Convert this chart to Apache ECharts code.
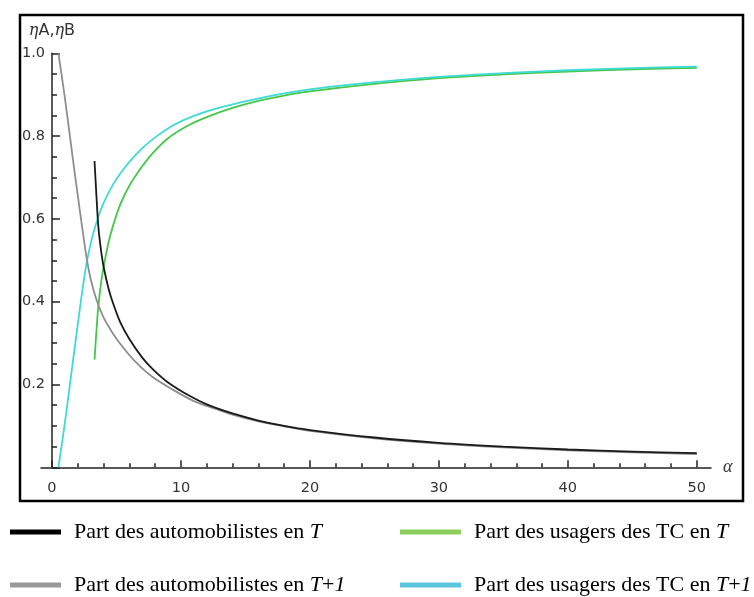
<!DOCTYPE html>
<html><head><meta charset="utf-8">
<script src="https://cdn.jsdelivr.net/npm/echarts@6/dist/echarts.min.js"></script>
<style>html,body{margin:0;padding:0;background:#fff}#c{width:754px;height:597px}</style>
</head><body><div id="c"></div>
<script>
// Part des automobilistes en T (black)
const alphaAutoT = [3.3,3.45,3.6,3.8,4.0,4.4,4.75,5.3,6.0,7.0,7.85,9.0,10.7,12,14,16,18,20,25,30,35,40,45,50];
const autoT      = [0.74,0.655,0.58,0.525,0.485,0.43,0.395,0.35,0.31,0.265,0.236,0.205,0.172,0.152,0.13,0.113,0.1,0.09,0.072,0.059,0.05,0.043,0.038,0.034];
// Part des usagers des TC en T (green)
const alphaTcT = [3.3,3.45,3.6,3.85,4.1,4.4,4.75,5.3,6.0,7.0,7.85,9.0,10.7,12,14,16,18,20,25,30,35,40,45,50];
const tcT      = [0.26,0.33,0.39,0.455,0.5,0.545,0.585,0.635,0.68,0.727,0.76,0.795,0.828,0.846,0.868,0.885,0.898,0.908,0.926,0.94,0.949,0.956,0.961,0.965];
// Part des automobilistes en T+1 (gray)
const alphaAutoT1 = [0.5,1.0,1.6,2.17,2.69,3.0,3.46,4.0,4.75,5.5,6.56,7.8,9.4,11,12.5,14,16,18,20,25,30,35,40,45,50];
const autoT1      = [1.0,0.893,0.75,0.618,0.505,0.455,0.404,0.362,0.322,0.29,0.252,0.218,0.187,0.16,0.143,0.127,0.111,0.099,0.088,0.07,0.057,0.048,0.041,0.036,0.032];
// Part des usagers des TC en T+1 (cyan)
const alphaTcT1 = [0.5,1.0,1.65,2.17,2.56,2.82,3.2,3.6,4.0,4.75,5.5,6.56,7.8,9.4,11,13,16.6,20,23.3,30,35,40,45,50];
const tcT1      = [0.0,0.107,0.262,0.385,0.47,0.515,0.565,0.605,0.638,0.684,0.718,0.757,0.792,0.826,0.849,0.869,0.895,0.913,0.925,0.943,0.952,0.959,0.964,0.968];

const xMajor = [0,10,20,30,40,50];
const xMinor = [2,4,6,8,12,14,16,18,22,24,26,28,32,34,36,38,42,44,46,48];

const names = ['Part des automobilistes en T','Part des automobilistes en T+1','Part des usagers des TC en T','Part des usagers des TC en T+1'];

const pairs = (xs, ys) => xs.map((x, i) => [x, ys[i]]);
const axisColor = '#222';
const tickFont = 'DejaVu Sans';

const legendFmt = n => n.replace(/ T\+1$/, ' {i|T}+{i|1}').replace(/ T$/, ' {i|T}');
const legendText = {
  fontFamily: 'Liberation Serif', fontSize: 22, lineHeight: 24, color: '#000', padding: [0,0,0,8],
  rich: { i: { fontFamily: 'Liberation Serif', fontSize: 22, fontStyle: 'italic', color: '#000' } }
};
const mkLegend = (name, color, left, top, w) => ({
  orient: 'horizontal', left: left, top: top, padding: 0, itemWidth: w, itemHeight: 5, icon: 'rect',
  data: [{ name: name, itemStyle: { color: color } }],
  formatter: legendFmt, textStyle: legendText
});

const chart = echarts.init(document.getElementById('c'));
chart.setOption({
  animation: false,
  backgroundColor: '#fff',
  grid: { left: 41, top: 53.3, width: 670, height: 414, containLabel: false },
  graphic: [{
    type: 'rect', silent: true, z: -1,
    shape: { x: 20, y: 15, width: 723, height: 486 },
    style: { fill: 'none', stroke: '#000', lineWidth: 2.5 }
  }],
  xAxis: [{
    type: 'value', min: -0.85, max: 51.1,
    axisLine: { onZero: true, lineStyle: { color: axisColor, width: 1.5 } },
    axisTick: { inside: true, length: 7, customValues: xMajor, lineStyle: { color: axisColor, width: 1.5 } },
    axisLabel: { customValues: xMajor, margin: 13, fontFamily: tickFont, fontSize: 14.5, color: '#333' },
    splitLine: { show: false },
    name: 'α', nameLocation: 'end', nameGap: 12,
    nameTextStyle: { fontFamily: 'Liberation Serif', fontStyle: 'italic', fontSize: 18, color: '#333' }
  }, {
    type: 'value', min: -0.85, max: 51.1, position: 'bottom',
    axisLine: { show: false },
    axisTick: { inside: true, length: 4, customValues: xMinor, lineStyle: { color: axisColor, width: 1.5 } },
    axisLabel: { show: false },
    splitLine: { show: false }
  }],
  yAxis: {
    type: 'value', min: 0, max: 1, interval: 0.2,
    axisLine: { onZero: true, lineStyle: { color: axisColor, width: 1.5 } },
    axisTick: { inside: true, length: 8, lineStyle: { color: axisColor, width: 1.5 } },
    minorTick: { show: true, splitNumber: 4, length: 5, lineStyle: { color: axisColor, width: 1.5 } },
    axisLabel: { showMinLabel: false, margin: -4, formatter: v => v.toFixed(1), fontFamily: tickFont, fontSize: 14.5, color: '#333' },
    splitLine: { show: false }, minorSplitLine: { show: false },
    name: '{e|η}A,{e|η}B', nameLocation: 'end', nameGap: 14,
    nameTextStyle: {
      fontFamily: tickFont, fontSize: 16, color: '#333',
      rich: { e: { fontFamily: 'DejaVu Serif', fontStyle: 'italic', fontSize: 16, color: '#333' } }
    }
  },
  legend: [
    mkLegend(names[0], '#000', 10, 520, 51),
    mkLegend(names[1], '#999', 10, 573, 51),
    mkLegend(names[2], '#8dcf5c', 400, 520, 61),
    mkLegend(names[3], '#5cc6de', 400, 573, 61)
  ],
  series: [
    { name: names[2], type: 'line', data: pairs(alphaTcT, tcT), showSymbol: false, smooth: 0.3, color: '#46c64c', lineStyle: { width: 1.8, color: '#46c64c' } },
    { name: names[3], type: 'line', data: pairs(alphaTcT1, tcT1), showSymbol: false, smooth: 0.3, color: '#3ddad6', lineStyle: { width: 1.8, color: '#3ddad6' } },
    { name: names[1], type: 'line', data: pairs(alphaAutoT1, autoT1), showSymbol: false, smooth: 0.3, color: '#8e8e8e', lineStyle: { width: 1.8, color: '#8e8e8e' } },
    { name: names[0], type: 'line', data: pairs(alphaAutoT, autoT), showSymbol: false, smooth: 0.3, color: '#1a1a1a', lineStyle: { width: 1.8, color: '#1a1a1a' } }
  ]
});
</script>
</body></html>
